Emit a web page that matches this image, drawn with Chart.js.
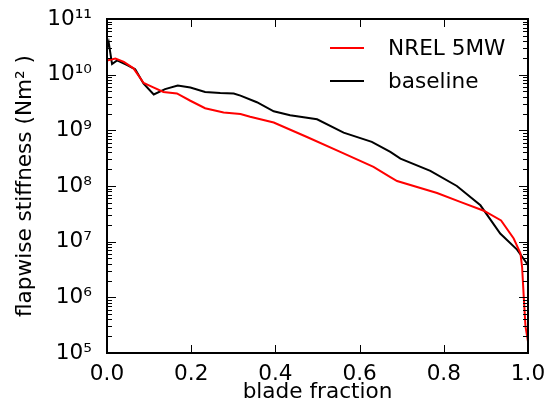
<!DOCTYPE html>
<html>
<head>
<meta charset="utf-8">
<script src="https://cdn.jsdelivr.net/npm/chart.js@4/dist/chart.umd.min.js"></script>
<style>
  html, body { margin: 0; padding: 0; background: #fff; }
</style>
</head>
<body>
<canvas id="stiffChart" width="548" height="415"></canvas>
<script>
// blade fraction / flapwise stiffness
const fracNrel = [0.0, 0.02, 0.04, 0.063, 0.087, 0.11, 0.134, 0.166, 0.198, 0.233, 0.277, 0.317, 0.34, 0.396, 0.475, 0.554, 0.633, 0.673, 0.689, 0.784, 0.839, 0.895, 0.936, 0.966, 0.982, 0.986, 0.99, 0.994, 1.0];
const stiffNrel = [1.8e10, 1.95e10, 1.7e10, 1.3e10, 7.1e9, 5.9e9, 4.9e9, 4.6e9, 3.4e9, 2.5e9, 2.1e9, 1.96e9, 1.75e9, 1.38e9, 7.6e8, 4.1e8, 2.2e8, 1.45e8, 1.23e8, 7.5e7, 5.2e7, 3.6e7, 2.4e7, 1.14e7, 6.2e6, 3.5e6, 1.0e6, 3.0e5, 1.6e5];

const fracBase = [0.0, 0.004, 0.012, 0.024, 0.048, 0.067, 0.087, 0.111, 0.138, 0.168, 0.198, 0.233, 0.269, 0.301, 0.317, 0.356, 0.396, 0.435, 0.499, 0.562, 0.629, 0.673, 0.697, 0.768, 0.831, 0.887, 0.934, 0.974, 0.994, 1.0];
const stiffBase = [3.0e10, 3.8e10, 1.55e10, 1.8e10, 1.48e10, 1.25e10, 6.9e9, 4.4e9, 5.5e9, 6.4e9, 5.9e9, 4.9e9, 4.7e9, 4.6e9, 4.2e9, 3.2e9, 2.2e9, 1.87e9, 1.58e9, 9.1e8, 6.2e8, 4.1e8, 3.1e8, 1.87e8, 1.0e8, 4.5e7, 1.4e7, 7.2e6, 4.4e6, 3.8e6];

const xTicks = [0, 0.2, 0.4, 0.6, 0.8, 1.0];
const yDecades = [5, 6, 7, 8, 9, 10, 11];

const seriesNames = ['NREL 5MW', 'baseline'];
const seriesColors = ['#ff0000', '#000000'];

const FONT = 'DejaVu Sans';
const FSIZE = 21.6;
Chart.defaults.font.family = FONT;
Chart.defaults.font.size = FSIZE;
Chart.defaults.color = '#000';

const SUP = '⁰¹²³⁴⁵⁶⁷⁸⁹';
function powerLabel(v) {
  const e = Math.round(Math.log10(v));
  return '10' + String(e).split('').map(d => SUP[+d]).join('');
}

function toPoints(xs, ys) {
  return xs.map((x, i) => ({ x: x, y: ys[i] }));
}

// frame + inward ticks like matplotlib
const frameTicks = {
  id: 'frameTicks',
  afterDatasetsDraw(chart) {
    const ctx = chart.ctx;
    const a = chart.chartArea;
    const xs = chart.scales.x, ys = chart.scales.y;
    ctx.save();
    ctx.strokeStyle = '#000';
    ctx.lineWidth = 1;
    ctx.beginPath();
    xTicks.forEach(v => {
      const px = Math.round(xs.getPixelForValue(v)) + 0.5;
      ctx.moveTo(px, a.bottom); ctx.lineTo(px, a.bottom - 8);
      ctx.moveTo(px, a.top); ctx.lineTo(px, a.top + 8);
    });
    yDecades.forEach(k => {
      const py = Math.round(ys.getPixelForValue(Math.pow(10, k))) + 0.5;
      ctx.moveTo(a.left, py); ctx.lineTo(a.left + 9, py);
      ctx.moveTo(a.right, py); ctx.lineTo(a.right - 9, py);
      if (k < 11) {
        for (let m = 2; m <= 9; m++) {
          const pm = Math.round(ys.getPixelForValue(m * Math.pow(10, k))) + 0.5;
          ctx.moveTo(a.left, pm); ctx.lineTo(a.left + 5, pm);
          ctx.moveTo(a.right, pm); ctx.lineTo(a.right - 5, pm);
        }
      }
    });
    ctx.stroke();
    ctx.lineWidth = 2;
    ctx.strokeRect(a.left, a.top, a.right - a.left, a.bottom - a.top);
    ctx.restore();
  }
};

// legend inside the plot, upper right
const insideLegend = {
  id: 'insideLegend',
  afterDraw(chart) {
    const ctx = chart.ctx;
    const a = chart.chartArea;
    ctx.save();
    ctx.font = FSIZE + 'px "' + FONT + '"';
    ctx.textBaseline = 'middle';
    ctx.textAlign = 'left';
    chart.data.datasets.forEach((ds, i) => {
      const y = a.top + 29 + i * 33;
      ctx.strokeStyle = ds.borderColor;
      ctx.lineWidth = 2;
      ctx.beginPath();
      ctx.moveTo(a.right - 198, y);
      ctx.lineTo(a.right - 164, y);
      ctx.stroke();
      ctx.fillStyle = '#000';
      ctx.fillText(ds.label, a.right - 140, y + 1);
    });
    ctx.restore();
  }
};

new Chart(document.getElementById('stiffChart'), {
  type: 'line',
  data: {
    datasets: [
      {
        label: seriesNames[0],
        data: toPoints(fracNrel, stiffNrel),
        borderColor: seriesColors[0],
        borderWidth: 2,
        pointRadius: 0,
        tension: 0,
        fill: false
      },
      {
        label: seriesNames[1],
        data: toPoints(fracBase, stiffBase),
        borderColor: seriesColors[1],
        borderWidth: 2,
        pointRadius: 0,
        tension: 0,
        fill: false
      }
    ]
  },
  options: {
    responsive: false,
    animation: false,
    layout: { padding: { left: 0, top: 19, right: 20, bottom: 0 } },
    plugins: {
      legend: { display: false },
      tooltip: { enabled: false }
    },
    scales: {
      x: {
        type: 'linear',
        min: 0,
        max: 1,
        afterBuildTicks: s => { s.ticks = xTicks.map(v => ({ value: v })); },
        afterFit: s => { s.height = 62; s.paddingLeft = 0; s.paddingRight = 0; },
        grid: { display: false, drawTicks: false },
        border: { display: false },
        ticks: {
          padding: 8,
          autoSkip: false,
          maxRotation: 0,
          callback: v => v.toFixed(1)
        },
        title: {
          display: true,
          text: 'blade fraction',
          padding: { top: 0, bottom: 10 }
        }
      },
      y: {
        type: 'logarithmic',
        min: 1e5,
        max: 1e11,
        afterBuildTicks: s => { s.ticks = yDecades.map(k => ({ value: Math.pow(10, k) })); },
        afterFit: s => { s.width = 107; s.paddingTop = 0; s.paddingBottom = 0; },
        grid: { display: false, drawTicks: false },
        border: { display: false },
        ticks: {
          padding: 15,
          autoSkip: false,
          callback: v => powerLabel(v)
        },
        title: {
          display: true,
          text: 'flapwise stiffness (Nm² )',
          padding: { top: 12, bottom: 0 }
        }
      }
    }
  },
  plugins: [frameTicks, insideLegend]
});
</script>
</body>
</html>
